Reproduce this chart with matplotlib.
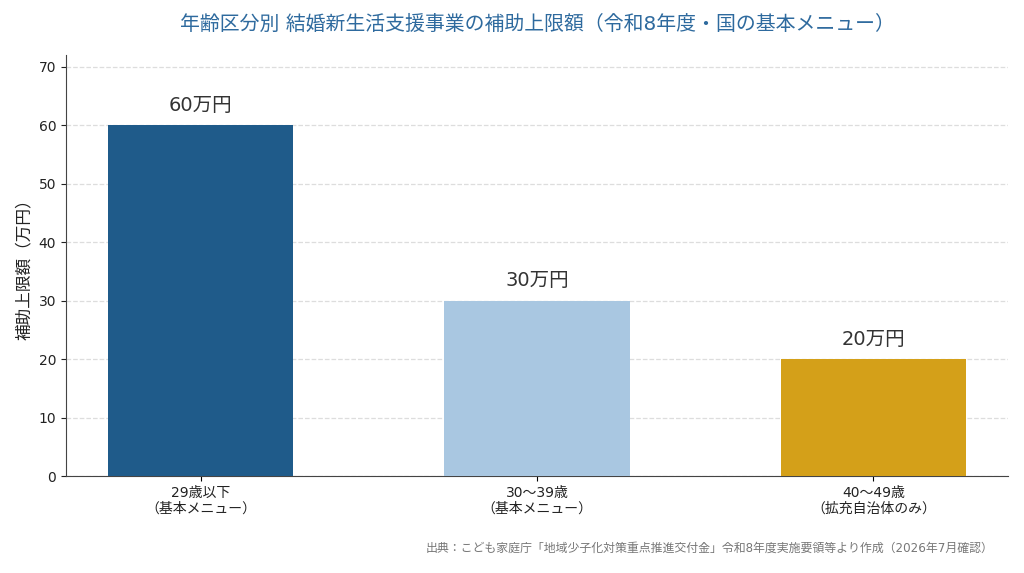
import matplotlib
matplotlib.use('Agg')
import matplotlib.pyplot as plt

plt.rcParams['font.family'] = ['DejaVu Sans', 'Noto Sans CJK JP']

categories = ['29歳以下\n（基本メニュー）', '30～39歳\n（基本メニュー）', '40～49歳\n（拡充自治体のみ）']
values = [60, 30, 20]
value_labels = ['60万円', '30万円', '20万円']
bar_colors = ['#1f5b8a', '#a9c7e1', '#d4a019']

fig = plt.figure(figsize=(10.24, 5.73), dpi=100)
ax = fig.add_axes([66 / 1024, 1 - 476 / 573, 942 / 1024, 421 / 573])

x = range(len(values))
ax.bar(x, values, width=0.55, color=bar_colors, zorder=3)
for i, (v, lab) in enumerate(zip(values, value_labels)):
    ax.text(i, v + 1.8, lab, ha='center', va='bottom', fontsize=14, color='#333333')

ax.set_xlim(-0.4, 2.4)
ax.set_ylim(0, 72)
ax.set_yticks(range(0, 71, 10))
ax.set_xticks(list(x))
ax.set_xticklabels(categories, fontsize=10, color='#222222', linespacing=1.2)
ax.tick_params(axis='y', labelsize=10, colors='#222222')
ax.set_ylabel('補助上限額（万円）', fontsize=12, color='#222222')
ax.yaxis.grid(True, linestyle='--', color='#dddddd', linewidth=0.9, zorder=0)
for s in ['top', 'right']:
    ax.spines[s].set_visible(False)
for s in ['left', 'bottom']:
    ax.spines[s].set_color('#444444')

fig.text(537 / 1024, 1 - 24 / 573, '年齢区分別 結婚新生活支援事業の補助上限額（令和8年度・国の基本メニュー）',
         ha='center', va='center', fontsize=14.3, color='#2e6a9e')
fig.text(1 - 30 / 1024, 1 - 548 / 573,
         '出典：こども家庭庁「地域少子化対策重点推進交付金」令和8年度実施要領等より作成（2026年7月確認）',
         ha='right', va='center', fontsize=8.6, color='#777777')

fig.savefig('out.png', dpi=100)
